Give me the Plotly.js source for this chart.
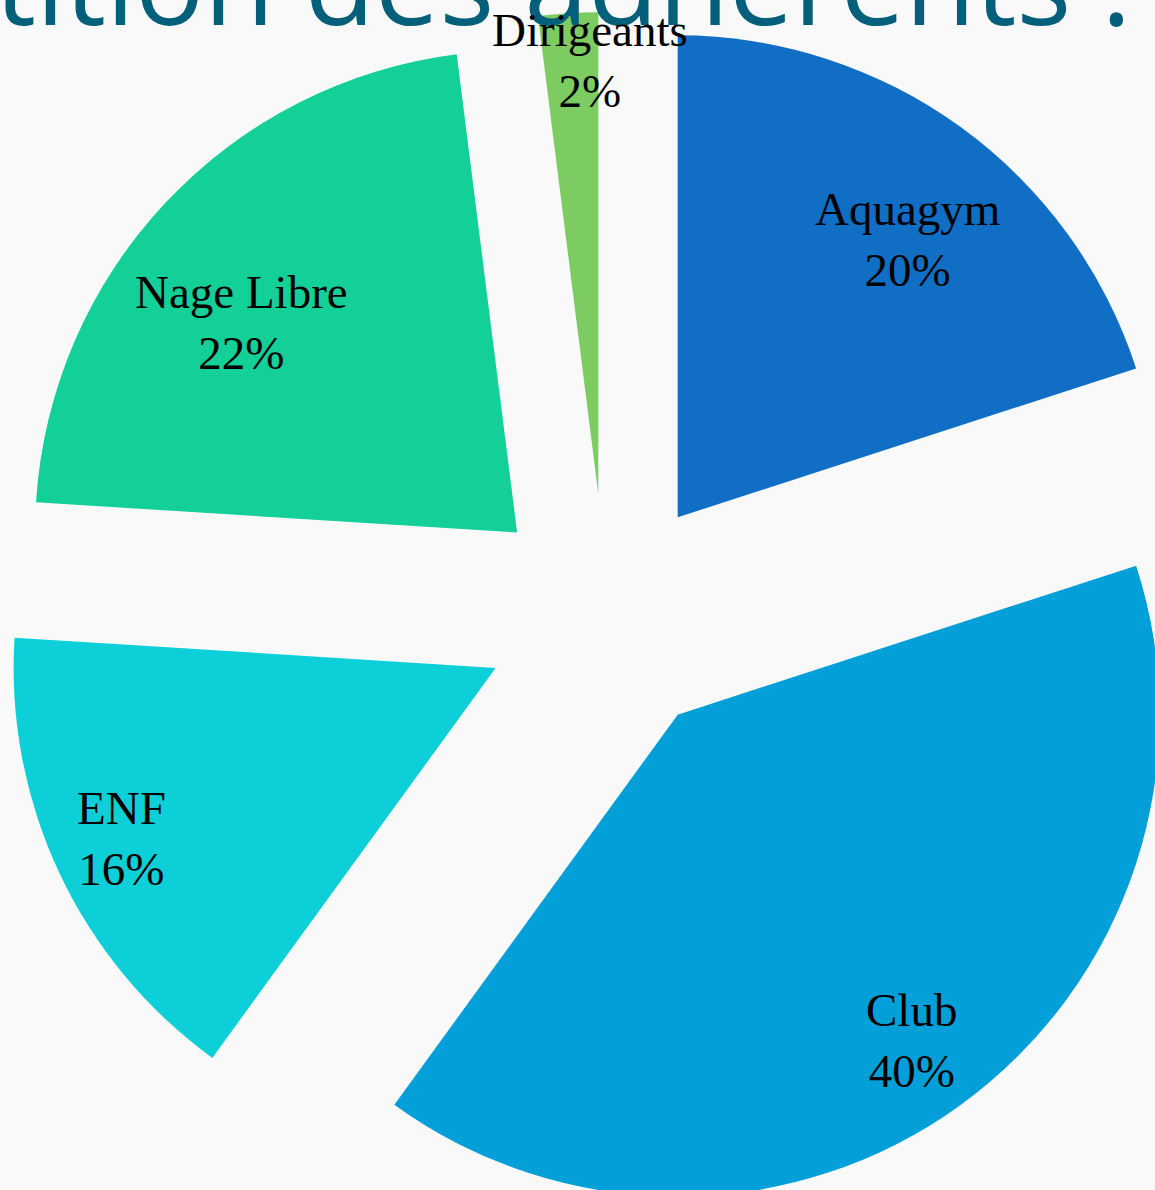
<!DOCTYPE html>
<html>
<head>
<meta charset="utf-8">
<script src="https://cdn.plot.ly/plotly-3.0.1.min.js"></script>
<style>
  html, body { margin:0; padding:0; width:1155px; height:1190px; overflow:hidden; background:#f9f9f9; }
  #chart { position:absolute; left:2px; top:-188px; width:1208px; height:1408px; }
</style>
</head>
<body>
<div id="chart"></div>
<script>
// ---- data ----
const categories = ['Aquagym', 'Club', 'ENF', 'Nage Libre', 'Dirigeants'];
const values = [20, 40, 16, 22, 2];
const titleText = 'Répartition des adhérents :';

// ---- style ----
const sliceColors = ['#106EC4', '#029FD8', '#0DCFD8', '#13CF98', '#7CCC62'];
const PULL = 0.253;
const labelRadius = [0.748, 0.832, 0.854, 0.72, 0.901];   // fraction of radius from slice tip
const labelAngleShift = [3.5, 0.4, 0.7, -5.9, 2.5];        // degrees from slice mid-angle

const total = values.reduce((a, b) => a + b, 0);
const rad = Math.PI / 180;
const rp = 0.5 / (1 + PULL); // pie radius in paper units (square plot area)
let cum = 0;
const annotations = categories.map((c, i) => {
  const start = cum / total * 360;
  cum += values[i];
  const stop = cum / total * 360;
  const mid = (start + stop) / 2;
  const vx = 0.5 + PULL * rp * Math.sin(mid * rad);
  const vy = 0.5 + PULL * rp * Math.cos(mid * rad);
  const a = (mid + labelAngleShift[i]) * rad;
  return {
    xref: 'paper', yref: 'paper',
    x: vx + labelRadius[i] * rp * Math.sin(a),
    y: vy + labelRadius[i] * rp * Math.cos(a),
    xanchor: 'center', yanchor: 'middle',
    text: c + '<br>' + Math.round(values[i] / total * 100) + '%',
    showarrow: false,
    font: { family: 'Liberation Serif, DejaVu Serif, serif', size: 47, color: '#000000' }
  };
});

const trace = {
  type: 'pie',
  labels: categories,
  values: values,
  sort: false,
  direction: 'clockwise',
  rotation: 0,
  pull: PULL,
  marker: { colors: sliceColors, line: { width: 0 } },
  textinfo: 'none',
  hoverinfo: 'skip',
  showlegend: false
};

const layout = {
  width: 1208,
  height: 1408,
  margin: { l: 0, r: 0, t: 200, b: 0 },
  paper_bgcolor: '#f9f9f9',
  plot_bgcolor: '#f9f9f9',
  showlegend: false,
  title: {
    text: titleText,
    font: { family: 'Open Sans, Noto Sans, sans-serif', size: 115, color: '#04607A' },
    xref: 'container', x: 0.935, xanchor: 'right',
    yref: 'container', y: 0.8490, yanchor: 'bottom'
  },
  annotations: annotations
};

Plotly.newPlot('chart', [trace], layout, { displayModeBar: false, staticPlot: true });
</script>
</body>
</html>
